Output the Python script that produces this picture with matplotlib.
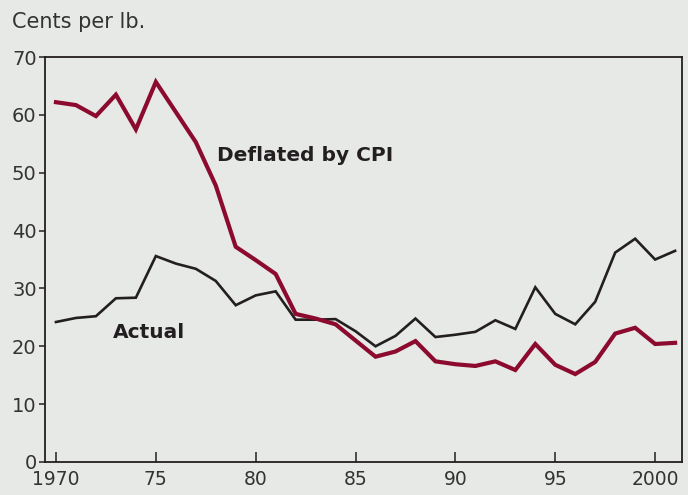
import matplotlib
matplotlib.use("Agg")
import matplotlib.pyplot as plt

years = list(range(1970, 2002))
deflated = [62.2, 61.7, 59.8, 63.5, 57.5, 65.7, 60.5, 55.3, 47.8, 37.2, 34.9, 32.5,
            25.6, 24.8, 23.8, 21.0, 18.2, 19.1, 20.9, 17.4, 16.9, 16.6, 17.4, 15.9,
            20.4, 16.8, 15.2, 17.3, 22.2, 23.2, 20.4, 20.6]
actual = [24.2, 24.9, 25.2, 28.3, 28.4, 35.6, 34.3, 33.4, 31.3, 27.1, 28.8, 29.5,
          24.6, 24.6, 24.7, 22.6, 20.0, 21.8, 24.8, 21.6, 22.0, 22.5, 24.5, 23.0,
          30.2, 25.6, 23.8, 27.7, 36.2, 38.6, 35.0, 36.5]
xticks = [1970, 1975, 1980, 1985, 1990, 1995, 2000]
xticklabels = ["1970", "75", "80", "85", "90", "95", "2000"]
yticks = [0, 10, 20, 30, 40, 50, 60, 70]

bg = "#e7e9e7"
red = "#8c0a2e"
dark = "#231f20"
plt.rcParams['font.family'] = ['DejaVu Sans']

fig = plt.figure(figsize=(6.88, 4.95), dpi=100, facecolor=bg)
ax = fig.add_axes([0.0654, 0.0667, 0.926, 0.818], facecolor=bg)

ax.plot(years, actual, color=dark, lw=1.9, solid_joinstyle='miter')
ax.plot(years, deflated, color=red, lw=3.0, solid_joinstyle='miter')

ax.set_xlim(1969.45, 2001.35)
ax.set_ylim(0, 70)
ax.set_xticks(xticks)
ax.set_xticklabels(xticklabels)
ax.set_yticks(yticks)

for s in ax.spines.values():
    s.set_color(dark)
    s.set_linewidth(1.3)

ax.tick_params(axis='y', direction='out', length=4, width=1.1, colors=dark,
               labelsize=14, pad=2, labelcolor="#333333")
ax.tick_params(axis='x', direction='in', length=7, width=1.1, colors=dark,
               labelsize=13.5, pad=6, labelcolor="#333333")

fig.text(0.017, 0.955, "Cents per lb.", fontsize=15, color="#333333", va='center', ha='left')
ax.text(1978.05, 53.0, "Deflated by CPI", fontsize=14.5, fontweight='bold', color=dark,
        va='center', ha='left')
ax.text(1972.85, 22.3, "Actual", fontsize=14.5, fontweight='bold', color=dark,
        va='center', ha='left')

fig.savefig("out.png", dpi=100, facecolor=bg)
